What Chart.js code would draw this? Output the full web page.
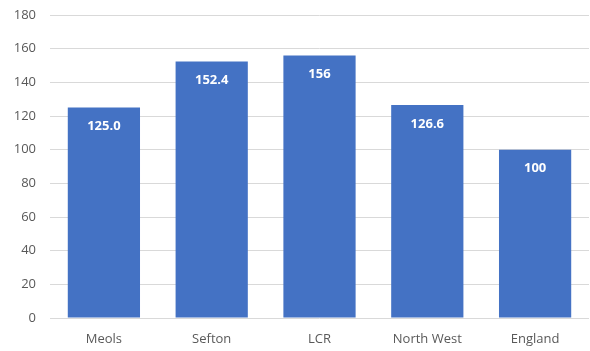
<!DOCTYPE html>
<html><head><meta charset="utf-8">
<script src="https://cdn.jsdelivr.net/npm/chart.js@4/dist/chart.umd.min.js"></script>
<style>html,body{margin:0;padding:0;background:#fff}#wrap{width:590px;height:351px}</style>
</head><body><div id="wrap"><canvas id="c" width="590" height="351"></canvas></div>
<script>
const categories = ["Meols", "Sefton", "LCR", "North West", "England"];
const values = [125.0, 152.4, 156, 126.6, 100];
const valueLabels = ["125.0", "152.4", "156", "126.6", "100"];
const yTicks = [0, 20, 40, 60, 80, 100, 120, 140, 160, 180];

const FONT = "'Open Sans', 'Liberation Sans', sans-serif";

const labelPlugin = {
  id: 'barLabels',
  afterDatasetsDraw(chart) {
    const ctx = chart.ctx;
    const meta = chart.getDatasetMeta(0);
    ctx.save();
    ctx.fillStyle = '#ffffff';
    ctx.font = 'bold 13px ' + FONT;
    ctx.textAlign = 'center';
    ctx.textBaseline = 'middle';
    meta.data.forEach((bar, i) => {
      ctx.fillText(valueLabels[i], bar.x, bar.y + 19);
    });
    ctx.restore();
  }
};

new Chart(document.getElementById('c'), {
  type: 'bar',
  data: {
    labels: categories,
    datasets: [{
      data: values,
      backgroundColor: '#4472C4',
      borderWidth: 0,
      categoryPercentage: 1.0,
      barPercentage: 0.67
    }]
  },
  options: {
    responsive: false,
    animation: false,
    layout: { padding: { left: 0, right: 1, top: 15, bottom: 0 } },
    plugins: { legend: { display: false }, tooltip: { enabled: false } },
    scales: {
      x: {
        grid: { display: false },
        border: { display: false },
        ticks: { color: '#595959', font: { family: FONT, size: 13 }, padding: 5 },
        afterFit(s) { s.height = 33; s.paddingLeft = 0; s.paddingRight = 0; }
      },
      y: {
        min: 0, max: 180,
        afterBuildTicks(s) { s.ticks = yTicks.map(v => ({ value: v })); },
        grid: { color: '#d9d9d9', lineWidth: 1, drawTicks: false },
        border: { display: false },
        ticks: { color: '#595959', font: { family: FONT, size: 13 }, padding: 14 },
        afterFit(s) { s.width = 50; s.paddingTop = 0; s.paddingBottom = 0; }
      }
    }
  },
  plugins: [labelPlugin]
});
</script>
</body></html>
